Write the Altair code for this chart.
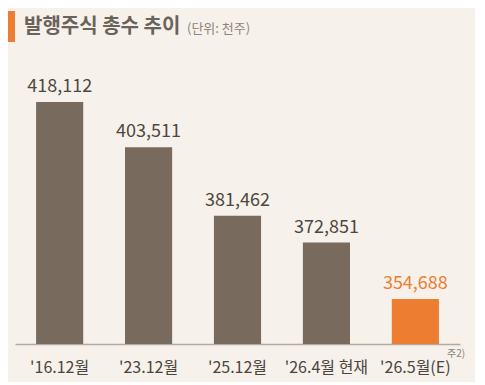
import altair as alt
import pandas as pd

categories = ["'16.12월", "'23.12월", "'25.12월", "'26.4월 현재", "'26.5월(E)"]
values = [418112, 403511, 381462, 372851, 354688]
estimate_category = "'26.5월(E)"

title_text = "발행주식 총수 추이"
unit_text = "(단위: 천주)"
note_text = "주2)"

FONT = "Noto Sans CJK KR"
BG = "#f6f1ea"
BAR = "#786b5d"
ORANGE = "#ed7d31"

df = pd.DataFrame({"category": categories, "value": values})
df["label"] = df["value"].map(lambda v: f"{v:,}")

x_enc = alt.X(
    "category:N",
    sort=categories,
    scale=alt.Scale(paddingInner=0.47, paddingOuter=0.237),
    axis=alt.Axis(
        title=None, labelAngle=0, ticks=False, labelFont=FONT, labelFontSize=16,
        labelColor="#4a443e", labelPadding=15, domainColor="#b5aa9c",
        domainWidth=1.5, grid=False,
    ),
)
y_enc = alt.Y(
    "value:Q",
    scale=alt.Scale(domain=[340200, 440000], zero=False, nice=False),
    axis=None,
)

is_est = alt.datum.category == estimate_category

bars = alt.Chart(df).mark_bar(clip=True).encode(
    x=x_enc, y=y_enc,
    color=alt.condition(is_est, alt.value(ORANGE), alt.value(BAR)),
)

labels = alt.Chart(df).mark_text(
    font=FONT, fontSize=18, baseline="alphabetic", dy=-10
).encode(
    x=alt.X("category:N", sort=categories),
    y=alt.Y("value:Q"),
    text="label:N",
    color=alt.condition(is_est, alt.value(ORANGE), alt.value("#4d4741")),
)

accent = alt.Chart(df.head(1)).mark_rect(color=ORANGE).encode(
    x=alt.value(-8), x2=alt.value(0), y=alt.value(-23), y2=alt.value(8)
)
title = alt.Chart(df.head(1)).mark_text(
    text=title_text, font=FONT, fontSize=20, fontWeight="bold",
    color="#6b6259", align="left", baseline="middle",
).encode(x=alt.value(9), y=alt.value(-7))
unit = alt.Chart(df.head(1)).mark_text(
    text=unit_text, font=FONT, fontSize=13, color="#8d847b",
    align="left", baseline="middle",
).encode(x=alt.value(172), y=alt.value(-5))
note = alt.Chart(df.head(1)).mark_text(
    text=note_text, font=FONT, fontSize=10, color="#8d847b",
    align="center", baseline="middle",
).encode(x=alt.value(441), y=alt.value(320))

chart = alt.layer(bars, labels, accent, title, unit, note).properties(
    width=445, height=310,
    padding={"left": 7, "top": 26, "right": 15, "bottom": 38},
    autosize=alt.AutoSizeParams(type="none"),
    background=BG,
).configure_view(stroke=None)

chart.save("out.html", embed_options={"renderer": "svg", "actions": False})
